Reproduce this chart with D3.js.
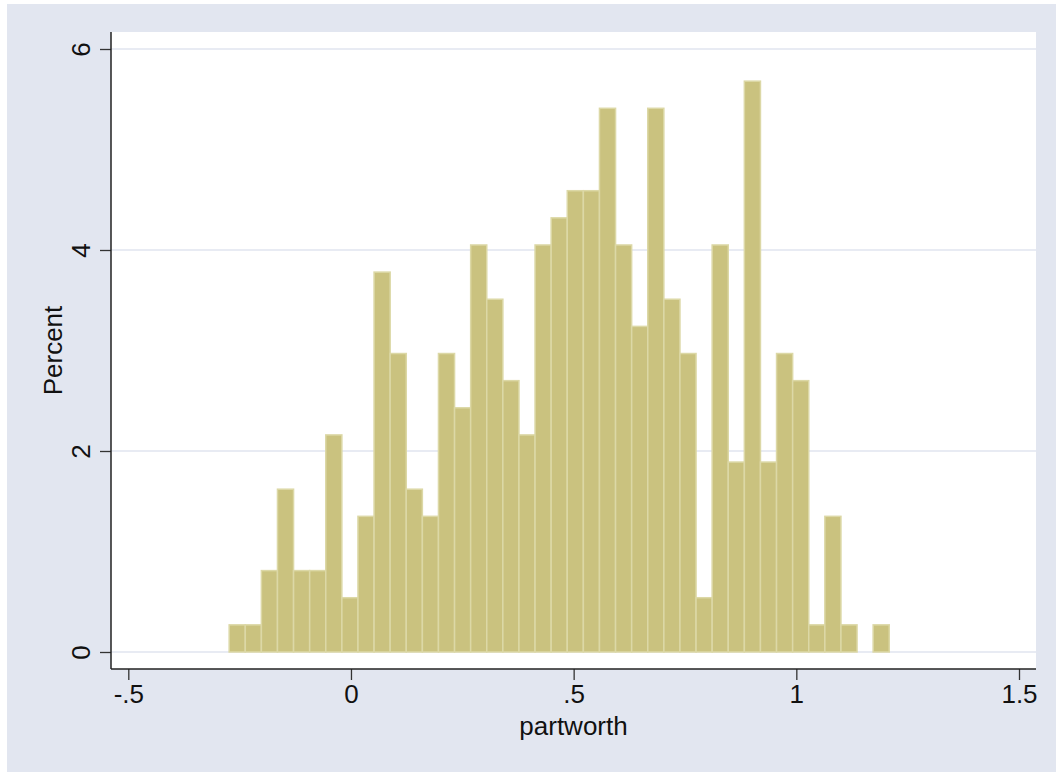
<!DOCTYPE html>
<html>
<head>
<meta charset="utf-8">
<script src="https://cdn.jsdelivr.net/npm/d3@7"></script>
<style>
  html, body { margin: 0; padding: 0; background: #fff; overflow: hidden; }
  svg { display: block; }
  svg text { font-family: "Liberation Sans", Arial, sans-serif; fill: #111; }
</style>
</head>
<body>
<div id="chart"></div>
<script>
// histogram of partworth, 41 bins
const binStart = -0.2735;
const binWidth = 0.03615;
const percents = [
  0.27, 0.27, 0.81, 1.62, 0.81, 0.81, 2.16, 0.54, 1.35, 3.78,
  2.97, 1.62, 1.35, 2.97, 2.43, 4.05, 3.51, 2.70, 2.16, 4.05,
  4.32, 4.59, 4.59, 5.41, 4.05, 3.24, 5.41, 3.51, 2.97, 0.54,
  4.05, 1.89, 5.68, 1.89, 2.97, 2.70, 0.27, 1.35, 0.27, 0,
  0.27
];
const xTicks = [-0.5, 0, 0.5, 1, 1.5];
const xTickLabels = ["-.5", "0", ".5", "1", "1.5"];
const yTicks = [0, 2, 4, 6];
const xTitle = "partworth";
const yTitle = "Percent";

const W = 1056, H = 772;
const plot = { left: 111, right: 1036, top: 32, bottom: 669 };

const svg = d3.select("#chart").append("svg")
  .attr("width", W)
  .attr("height", H);

svg.append("rect")
  .attr("x", 7).attr("y", 4)
  .attr("width", W - 7).attr("height", H - 4)
  .attr("fill", "#e2e6f0");

svg.append("rect")
  .attr("x", plot.left).attr("y", plot.top)
  .attr("width", plot.right - plot.left)
  .attr("height", plot.bottom - plot.top)
  .attr("fill", "#fff");

const x = d3.scaleLinear().domain([-0.5, 1.5]).range([128.3, 1019]);
const y = d3.scaleLinear().domain([0, 6]).range([652, 49]);

// gridlines
svg.append("g")
  .selectAll("line")
  .data(yTicks)
  .enter().append("line")
  .attr("x1", plot.left)
  .attr("x2", plot.right)
  .attr("y1", d => y(d))
  .attr("y2", d => y(d))
  .attr("stroke", "#e0e4ef")
  .attr("stroke-width", 1.5);

// bars
const bins = percents.map((p, i) => ({
  x0: binStart + i * binWidth,
  x1: binStart + (i + 1) * binWidth,
  p: p
})).filter(d => d.p > 0);

svg.append("g")
  .selectAll("rect")
  .data(bins)
  .enter().append("rect")
  .attr("x", d => x(d.x0))
  .attr("y", d => y(d.p))
  .attr("width", d => x(d.x1) - x(d.x0))
  .attr("height", d => y(0) - y(d.p))
  .attr("fill", "#cac27f")
  .attr("stroke", "#dcd8a6")
  .attr("stroke-width", 1.5);

// x axis
const xAxis = svg.append("g")
  .attr("transform", `translate(0,${plot.bottom})`)
  .call(d3.axisBottom(x).tickValues(xTicks)
    .tickFormat((d, i) => xTickLabels[i])
    .tickSize(11).tickPadding(5).tickSizeOuter(0));
xAxis.select(".domain").remove();
xAxis.selectAll(".tick line").attr("stroke", "#333").attr("stroke-width", 1.3);
xAxis.selectAll(".tick text").style("font-size", "26px").attr("fill", "#111");

svg.append("line")
  .attr("x1", plot.left).attr("x2", plot.right)
  .attr("y1", plot.bottom).attr("y2", plot.bottom)
  .attr("stroke", "#222").attr("stroke-width", 1.5);

// y axis
const yAxis = svg.append("g")
  .attr("transform", `translate(${plot.left},0)`)
  .call(d3.axisLeft(y).tickValues(yTicks).tickFormat(d3.format("d"))
    .tickSize(11).tickSizeOuter(0));
yAxis.select(".domain").remove();
yAxis.selectAll(".tick line").attr("stroke", "#333").attr("stroke-width", 1.3);
yAxis.selectAll(".tick text")
  .attr("x", null).attr("dy", null)
  .attr("transform", "translate(-21,0) rotate(-90)")
  .attr("text-anchor", "middle")
  .style("font-size", "26px")
  .attr("fill", "#111");

svg.append("line")
  .attr("x1", plot.left).attr("x2", plot.left)
  .attr("y1", plot.top).attr("y2", plot.bottom)
  .attr("stroke", "#222").attr("stroke-width", 1.5);

// titles
svg.append("text")
  .attr("x", (plot.left + plot.right) / 2)
  .attr("y", 735)
  .attr("text-anchor", "middle")
  .style("font-size", "26px")
  .text(xTitle);

svg.append("text")
  .attr("transform", `translate(62,${(plot.top + plot.bottom) / 2}) rotate(-90)`)
  .attr("text-anchor", "middle")
  .style("font-size", "26px")
  .text(yTitle);
</script>
</body>
</html>
